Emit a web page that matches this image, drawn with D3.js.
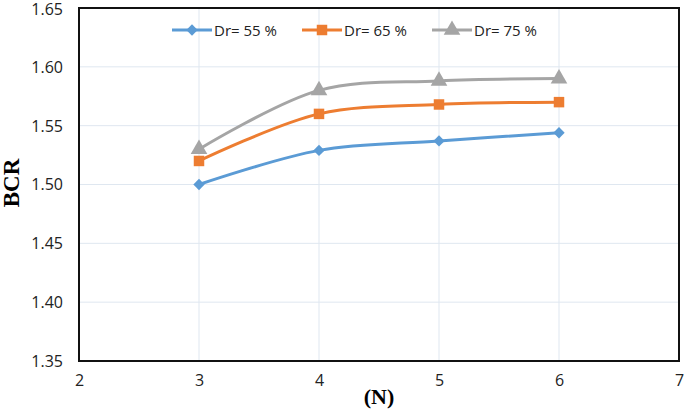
<!DOCTYPE html>
<html><head><meta charset="utf-8">
<script src="https://cdn.jsdelivr.net/npm/d3@7"></script>
<style>body{margin:0;background:#fff;} svg{display:block;}</style>
</head><body>
<svg id="c" width="685" height="412"></svg>
<script>
const xValues = [3, 4, 5, 6];
const seriesNames = ["Dr= 55 %", "Dr= 65 %", "Dr= 75 %"];
const dr55 = [1.500, 1.529, 1.537, 1.544];
const dr65 = [1.520, 1.560, 1.568, 1.570];
const dr75 = [1.530, 1.580, 1.588, 1.590];
const xTicks = [2, 3, 4, 5, 6, 7];
const yTicks = [1.35, 1.40, 1.45, 1.50, 1.55, 1.60, 1.65];
const colors = ["#5b9bd5", "#ed7d31", "#a5a5a5"];

const svg = d3.select("#c");
const m = {l: 79, r: 679, t: 8, b: 361};
const x = d3.scaleLinear().domain([2, 7]).range([m.l, m.r]);
const y = d3.scaleLinear().domain([1.35, 1.65]).range([m.b, m.t]);
const font = "'Open Sans','Liberation Sans',sans-serif";

const markers = [
  {type: d3.symbolSquare, size: 64, rot: 45},
  {type: d3.symbolSquare, size: 110, rot: 0},
  {type: d3.symbolTriangle, size: 120, rot: 0}
];

// grid
svg.append("g").selectAll("line").data(yTicks).join("line")
  .attr("x1", m.l).attr("x2", m.r).attr("y1", d => y(d)).attr("y2", d => y(d))
  .attr("stroke", "#dfe7f0").attr("stroke-width", 1);
svg.append("g").selectAll("line").data(xTicks).join("line")
  .attr("y1", m.t).attr("y2", m.b).attr("x1", d => x(d)).attr("x2", d => x(d))
  .attr("stroke", "#dfe7f0").attr("stroke-width", 1);

// axes
const ya = svg.append("g").attr("transform", `translate(${m.l},0)`)
  .call(d3.axisLeft(y).tickValues(yTicks).tickFormat(d3.format(".2f")).tickSize(0).tickPadding(16));
const xa = svg.append("g").attr("transform", `translate(0,${m.b})`)
  .call(d3.axisBottom(x).tickValues(xTicks).tickFormat(d3.format("d")).tickSize(0).tickPadding(14));
[ya, xa].forEach(a => {
  a.select(".domain").remove();
  a.selectAll("text").attr("font-family", font).attr("font-size", 16).attr("fill", "#222");
});
ya.selectAll("text").attr("dy", d => d === 1.65 ? "0.42em" : "0.34em");

// border
svg.append("rect").attr("x", m.l).attr("y", m.t).attr("width", m.r - m.l).attr("height", m.b - m.t)
  .attr("fill", "none").attr("stroke", "#111").attr("stroke-width", 2);

// series
const data = [dr55, dr65, dr75];
const line = d3.line().x((d, i) => x(xValues[i])).y(d => y(d)).curve(d3.curveCatmullRom.alpha(0.5));
data.forEach((s, k) => {
  svg.append("path").attr("d", line(s)).attr("fill", "none")
    .attr("stroke", colors[k]).attr("stroke-width", 3);
  svg.append("g").selectAll("path").data(s).join("path")
    .attr("d", d3.symbol().type(markers[k].type).size(markers[k].size))
    .attr("transform", (d, i) => `translate(${x(xValues[i])},${y(d)}) rotate(${markers[k].rot})`)
    .attr("fill", colors[k]);
});

// legend
const lx = [172, 302, 432];
seriesNames.forEach((n, k) => {
  const g = svg.append("g").attr("transform", `translate(${lx[k]},30)`);
  g.append("line").attr("x1", 0).attr("x2", 40).attr("stroke", colors[k]).attr("stroke-width", 3);
  g.append("path").attr("d", d3.symbol().type(markers[k].type).size(markers[k].size)())
    .attr("transform", `translate(20,0) rotate(${markers[k].rot})`).attr("fill", colors[k]);
  g.append("text").attr("x", 42).attr("y", 5.5).text(n)
    .attr("font-family", font).attr("font-size", 15).attr("fill", "#222");
});

// axis titles
svg.append("text").attr("transform", "translate(19,183) rotate(-90)").attr("text-anchor", "middle")
  .attr("font-family", "'Liberation Serif','Times New Roman',serif").attr("font-weight", "bold")
  .attr("font-size", 23).text("BCR");
svg.append("text").attr("x", 379).attr("y", 404).attr("text-anchor", "middle")
  .attr("font-family", "'Liberation Serif','Times New Roman',serif").attr("font-weight", "bold")
  .attr("font-size", 22).text("(N)");
</script>
</body></html>
